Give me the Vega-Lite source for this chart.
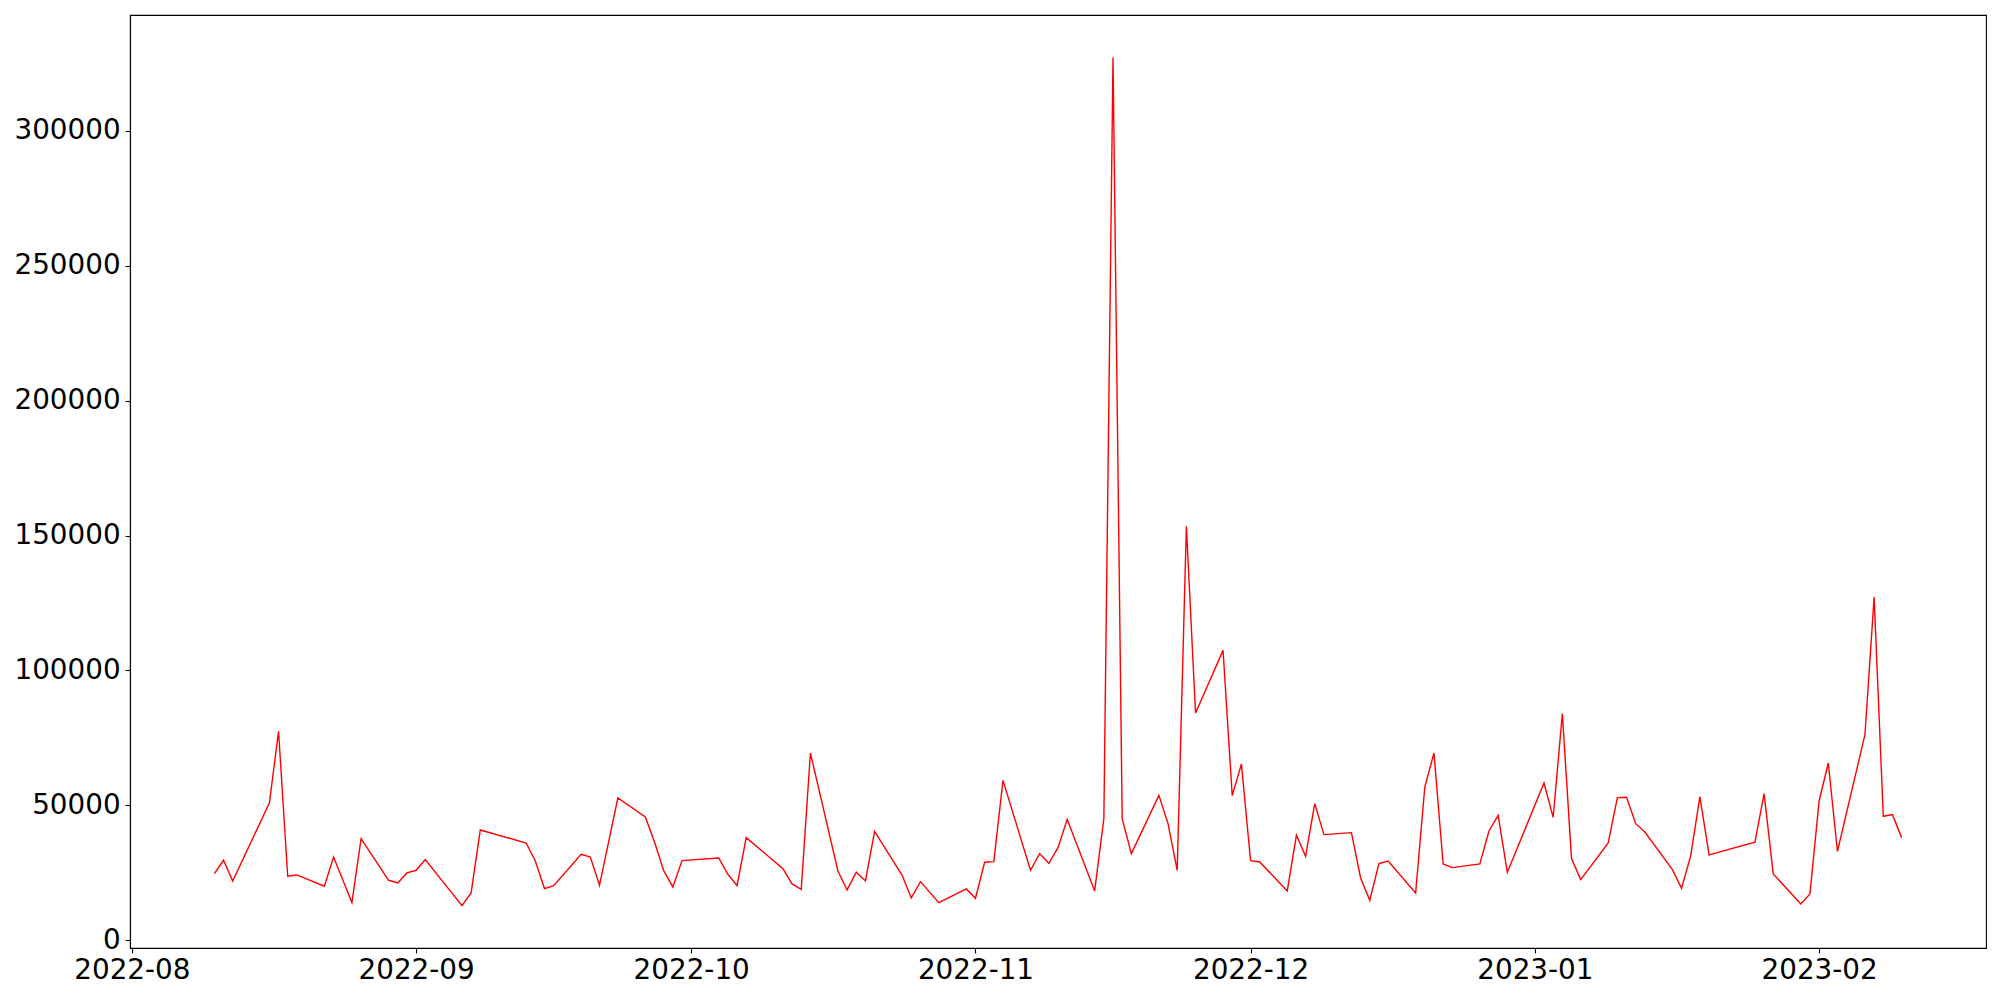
{
  "$schema": "https://vega.github.io/schema/vega-lite/v6.json",
  "width": 1856,
  "height": 933,
  "autosize": "none",
  "padding": {"left": 130, "top": 15, "right": 14, "bottom": 52},
  "background": "white",
  "config": {
    "view": {"stroke": "black", "strokeWidth": 1.1},
    "font": "DejaVu Sans"
  },
  "data": {
    "values": [
      {"date": "2022-08-10", "value": 24700},
      {"date": "2022-08-11", "value": 29630},
      {"date": "2022-08-12", "value": 21970},
      {"date": "2022-08-16", "value": 50860},
      {"date": "2022-08-17", "value": 77400},
      {"date": "2022-08-18", "value": 23700},
      {"date": "2022-08-19", "value": 24200},
      {"date": "2022-08-22", "value": 20000},
      {"date": "2022-08-23", "value": 30860},
      {"date": "2022-08-25", "value": 13950},
      {"date": "2022-08-26", "value": 37660},
      {"date": "2022-08-29", "value": 22220},
      {"date": "2022-08-30", "value": 21230},
      {"date": "2022-08-31", "value": 24940},
      {"date": "2022-09-01", "value": 25930},
      {"date": "2022-09-02", "value": 29880},
      {"date": "2022-09-06", "value": 12840},
      {"date": "2022-09-07", "value": 17530},
      {"date": "2022-09-08", "value": 40860},
      {"date": "2022-09-13", "value": 36050},
      {"date": "2022-09-14", "value": 29380},
      {"date": "2022-09-15", "value": 19140},
      {"date": "2022-09-16", "value": 20250},
      {"date": "2022-09-19", "value": 31850},
      {"date": "2022-09-20", "value": 30860},
      {"date": "2022-09-21", "value": 20370},
      {"date": "2022-09-23", "value": 52720},
      {"date": "2022-09-26", "value": 45680},
      {"date": "2022-09-27", "value": 36420},
      {"date": "2022-09-28", "value": 25800},
      {"date": "2022-09-29", "value": 19750},
      {"date": "2022-09-30", "value": 29510},
      {"date": "2022-10-04", "value": 30490},
      {"date": "2022-10-05", "value": 24440},
      {"date": "2022-10-06", "value": 20250},
      {"date": "2022-10-07", "value": 38030},
      {"date": "2022-10-11", "value": 26550},
      {"date": "2022-10-12", "value": 20860},
      {"date": "2022-10-13", "value": 18890},
      {"date": "2022-10-14", "value": 69380},
      {"date": "2022-10-17", "value": 25680},
      {"date": "2022-10-18", "value": 18640},
      {"date": "2022-10-19", "value": 25190},
      {"date": "2022-10-20", "value": 21970},
      {"date": "2022-10-21", "value": 40370},
      {"date": "2022-10-24", "value": 24080},
      {"date": "2022-10-25", "value": 15680},
      {"date": "2022-10-26", "value": 21730},
      {"date": "2022-10-28", "value": 13950},
      {"date": "2022-10-31", "value": 19010},
      {"date": "2022-11-01", "value": 15560},
      {"date": "2022-11-02", "value": 28890},
      {"date": "2022-11-03", "value": 29140},
      {"date": "2022-11-04", "value": 59260},
      {"date": "2022-11-07", "value": 25930},
      {"date": "2022-11-08", "value": 32100},
      {"date": "2022-11-09", "value": 28520},
      {"date": "2022-11-10", "value": 34330},
      {"date": "2022-11-11", "value": 44820},
      {"date": "2022-11-14", "value": 18270},
      {"date": "2022-11-15", "value": 45070},
      {"date": "2022-11-16", "value": 327200},
      {"date": "2022-11-17", "value": 45070},
      {"date": "2022-11-18", "value": 32100},
      {"date": "2022-11-21", "value": 53700},
      {"date": "2022-11-22", "value": 43210},
      {"date": "2022-11-23", "value": 25930},
      {"date": "2022-11-24", "value": 153460},
      {"date": "2022-11-25", "value": 84200},
      {"date": "2022-11-28", "value": 107420},
      {"date": "2022-11-29", "value": 53590},
      {"date": "2022-11-30", "value": 65300},
      {"date": "2022-12-01", "value": 29510},
      {"date": "2022-12-02", "value": 29010},
      {"date": "2022-12-05", "value": 18270},
      {"date": "2022-12-06", "value": 38890},
      {"date": "2022-12-07", "value": 31110},
      {"date": "2022-12-08", "value": 50620},
      {"date": "2022-12-09", "value": 39140},
      {"date": "2022-12-12", "value": 39880},
      {"date": "2022-12-13", "value": 23090},
      {"date": "2022-12-14", "value": 14820},
      {"date": "2022-12-15", "value": 28400},
      {"date": "2022-12-16", "value": 29380},
      {"date": "2022-12-19", "value": 17530},
      {"date": "2022-12-20", "value": 56790},
      {"date": "2022-12-21", "value": 69380},
      {"date": "2022-12-22", "value": 28270},
      {"date": "2022-12-23", "value": 26920},
      {"date": "2022-12-26", "value": 28270},
      {"date": "2022-12-27", "value": 40490},
      {"date": "2022-12-28", "value": 46300},
      {"date": "2022-12-29", "value": 25190},
      {"date": "2023-01-02", "value": 58270},
      {"date": "2023-01-03", "value": 45560},
      {"date": "2023-01-04", "value": 83970},
      {"date": "2023-01-05", "value": 30250},
      {"date": "2023-01-06", "value": 22470},
      {"date": "2023-01-09", "value": 36050},
      {"date": "2023-01-10", "value": 52840},
      {"date": "2023-01-11", "value": 52960},
      {"date": "2023-01-12", "value": 43210},
      {"date": "2023-01-13", "value": 40120},
      {"date": "2023-01-16", "value": 26180},
      {"date": "2023-01-17", "value": 19260},
      {"date": "2023-01-18", "value": 31360},
      {"date": "2023-01-19", "value": 53220},
      {"date": "2023-01-20", "value": 31610},
      {"date": "2023-01-25", "value": 36300},
      {"date": "2023-01-26", "value": 54330},
      {"date": "2023-01-27", "value": 24570},
      {"date": "2023-01-30", "value": 13460},
      {"date": "2023-01-31", "value": 17160},
      {"date": "2023-02-01", "value": 51610},
      {"date": "2023-02-02", "value": 65680},
      {"date": "2023-02-03", "value": 32960},
      {"date": "2023-02-06", "value": 76180},
      {"date": "2023-02-07", "value": 127170},
      {"date": "2023-02-08", "value": 45930},
      {"date": "2023-02-09", "value": 46550},
      {"date": "2023-02-10", "value": 38030}
    ]
  },
  "mark": {"type": "line", "color": "#ff0000", "strokeWidth": 1.4, "clip": true},
  "encoding": {
    "x": {
      "field": "date",
      "type": "temporal",
      "scale": {
        "type": "utc",
        "domain": [
          {"year": 2022, "month": "Jul", "date": 31, "hours": 19, "minutes": 12, "utc": true},
          {"year": 2023, "month": "Feb", "date": 19, "hours": 4, "minutes": 48, "utc": true}
        ],
        "nice": false
      },
      "axis": {
        "title": null,
        "grid": false,
        "format": "%Y-%m",
        "values": [
          {"year": 2022, "month": "Aug", "date": 1, "utc": true},
          {"year": 2022, "month": "Sep", "date": 1, "utc": true},
          {"year": 2022, "month": "Oct", "date": 1, "utc": true},
          {"year": 2022, "month": "Nov", "date": 1, "utc": true},
          {"year": 2022, "month": "Dec", "date": 1, "utc": true},
          {"year": 2023, "month": "Jan", "date": 1, "utc": true},
          {"year": 2023, "month": "Feb", "date": 1, "utc": true}
        ],
        "labelFont": "DejaVu Sans",
        "labelFontSize": 27.8,
        "labelColor": "black",
        "labelPadding": 4,
        "labelFlush": false,
        "labelOverlap": false,
        "tickColor": "black",
        "tickSize": 4.9,
        "tickWidth": 1.1,
        "domainColor": "black",
        "domainWidth": 1.1
      }
    },
    "y": {
      "field": "value",
      "type": "quantitative",
      "scale": {"domain": [-2878, 342918], "nice": false, "zero": false},
      "axis": {
        "title": null,
        "grid": false,
        "values": [0, 50000, 100000, 150000, 200000, 250000, 300000],
        "format": "d",
        "labelFont": "DejaVu Sans",
        "labelFontSize": 27.8,
        "labelColor": "black",
        "labelPadding": 5,
        "labelFlush": false,
        "labelOverlap": false,
        "tickColor": "black",
        "tickSize": 4.9,
        "tickWidth": 1.1,
        "domainColor": "black",
        "domainWidth": 1.1
      }
    }
  }
}
